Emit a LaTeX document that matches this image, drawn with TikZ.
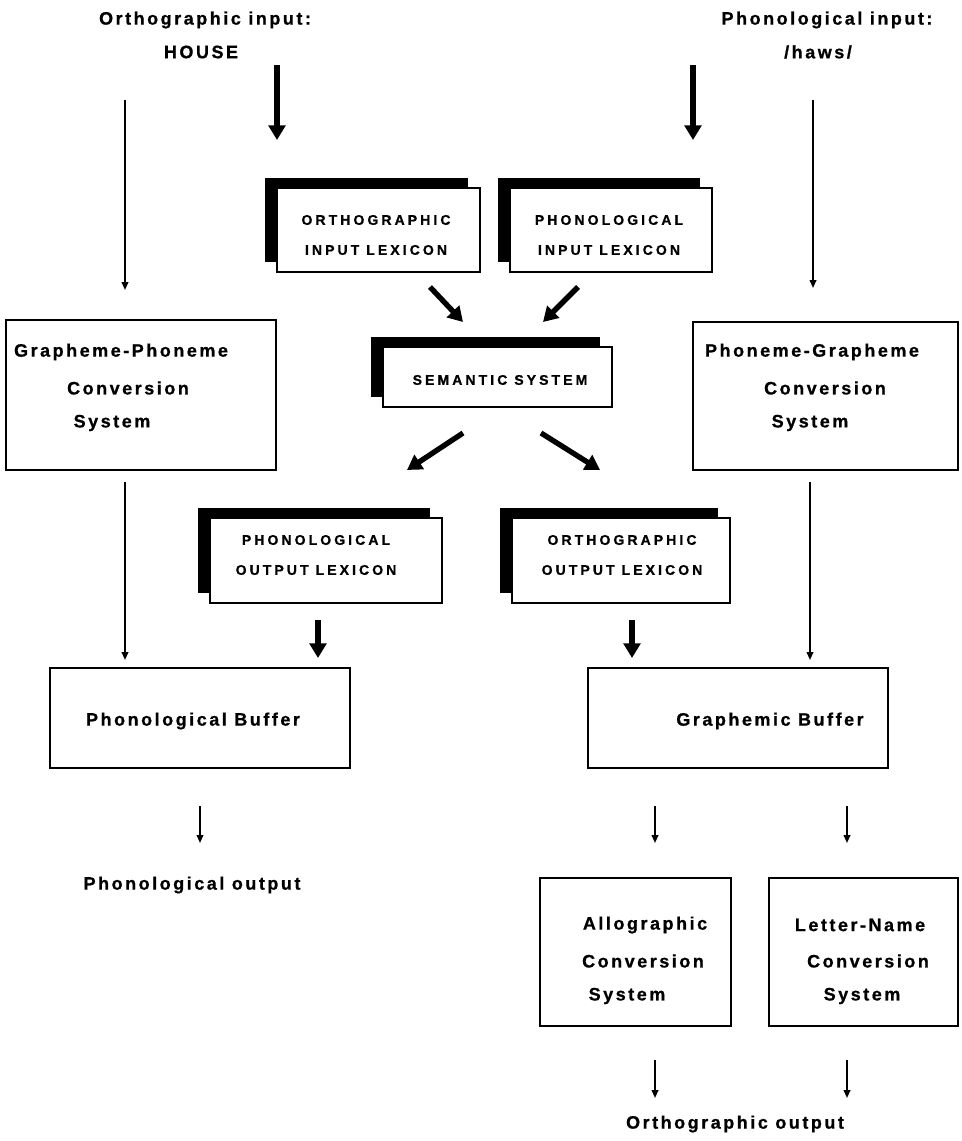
\documentclass[tikz,border=0pt]{standalone}
\usepackage{fontspec}
\setmainfont{Liberation Sans}
\newfontfamily\mixfont{Liberation Sans}[LetterSpace=14, BoldFeatures={FakeBold=0.8}]
\newfontfamily\capfont{Liberation Sans}[LetterSpace=22, BoldFeatures={FakeBold=0.8}]
\usetikzlibrary{arrows.meta,shadows}

\tikzset{
  txt/.style={font=\mixfont\bfseries\fontsize{13.5}{15}\selectfont, inner sep=0pt},
  captxt/.style={font=\capfont\bfseries\fontsize{10.5}{22.5}\selectfont, align=center},
  plainbox/.style={draw, line width=0.8pt, inner sep=0pt},
  lexbox/.style={draw, fill=white, line width=0.8pt, inner sep=0pt,
    general shadow={fill=black, shadow xshift=-9pt, shadow yshift=7.5pt}},
  thinarrow/.style={line width=1.3pt, -{Triangle[width=5pt,length=6pt]}},
  thickarrow/.style={line width=4pt, -{Triangle[width=12.5pt,length=11pt]}}
}

\begin{document}
\begin{tikzpicture}[x=0.75pt,y=-0.75pt]
\path[use as bounding box] (0,0) rectangle (962,1141);

% inputs
\node[txt] (orthin) at (205,20) {Orthographic input:};
\node[txt] (house) at (201,52) {HOUSE};
\node[txt] (phonin) at (827,20) {Phonological input:};
\node[txt] (haws) at (818,52) {/haws/};

% lexicons and semantic system
\node[lexbox, minimum width=203*0.75pt, minimum height=84*0.75pt] (oil) at (378.5,230) {};
\node[captxt] (oilt) at (376,235) {ORTHOGRAPHIC\\INPUT LEXICON};
\node[lexbox, minimum width=202*0.75pt, minimum height=84*0.75pt] (pil) at (611,230) {};
\node[captxt] (pilt) at (609,235) {PHONOLOGICAL\\INPUT LEXICON};
\node[lexbox, minimum width=229*0.75pt, minimum height=60*0.75pt] (sem) at (497.5,377) {};
\node[captxt] (semt) at (500,380) {SEMANTIC SYSTEM};
\node[lexbox, minimum width=232*0.75pt, minimum height=85*0.75pt] (pol) at (326,560.5) {};
\node[captxt] (polt) at (316,555) {PHONOLOGICAL\\OUTPUT LEXICON};
\node[lexbox, minimum width=218*0.75pt, minimum height=85*0.75pt] (ool) at (621,560.5) {};
\node[captxt] (oolt) at (622,555) {ORTHOGRAPHIC\\OUTPUT LEXICON};

% conversion systems
\node[plainbox, minimum width=270*0.75pt, minimum height=150*0.75pt] (gpc) at (141,395) {};
\node[txt] (gpc1) at (121,352) {Grapheme-Phoneme};
\node[txt] (gpc2) at (128,388) {Conversion};
\node[txt] (gpc3) at (112,423) {System};

\node[plainbox, minimum width=265*0.75pt, minimum height=148*0.75pt] (pgc) at (825.5,396) {};
\node[txt] (pgc1) at (812,352) {Phoneme-Grapheme};
\node[txt] (pgc2) at (825,388) {Conversion};
\node[txt] (pgc3) at (810,423) {System};

% buffers
\node[plainbox, minimum width=300*0.75pt, minimum height=100*0.75pt] (pb) at (200,718) {};
\node[txt] (pbt) at (193,721) {Phonological Buffer};
\node[plainbox, minimum width=300*0.75pt, minimum height=100*0.75pt] (gb) at (738,718) {};
\node[txt] (gbt) at (770,721) {Graphemic Buffer};

% outputs
\node[txt] (phonout) at (192,885) {Phonological output};

\node[plainbox, minimum width=191*0.75pt, minimum height=148*0.75pt] (ac) at (635.5,952) {};
\node[txt] (ac1) at (645,925) {Allographic};
\node[txt] (ac2) at (643,961) {Conversion};
\node[txt] (ac3) at (627,996) {System};

\node[plainbox, minimum width=189*0.75pt, minimum height=148*0.75pt] (ln) at (863.5,952) {};
\node[txt] (ln1) at (860,925) {Letter-Name};
\node[txt] (ln2) at (868,961) {Conversion};
\node[txt] (ln3) at (862,996) {System};

\node[txt] (orthout) at (735,1124) {Orthographic output};

% arrow end points
\coordinate (a1s) at (277,65);   \coordinate (a1e) at (277,140);
\coordinate (a2s) at (693,65);   \coordinate (a2e) at (693,140);
\coordinate (a3s) at (430,287);  \coordinate (a3e) at (463,322);
\coordinate (a4s) at (578,287);  \coordinate (a4e) at (543,322);
\coordinate (a5s) at (463,433);  \coordinate (a5e) at (407,470);
\coordinate (a6s) at (541,433);  \coordinate (a6e) at (600,470);
\coordinate (a7s) at (318,620);  \coordinate (a7e) at (318,658);
\coordinate (a8s) at (632,620);  \coordinate (a8e) at (632,658);

\coordinate (b1s) at (125,100);  \coordinate (b1e) at (125,290);
\coordinate (b2s) at (813,100);  \coordinate (b2e) at (813,288);
\coordinate (b3s) at (125,482);  \coordinate (b3e) at (125,660);
\coordinate (b4s) at (810,482);  \coordinate (b4e) at (810,660);
\coordinate (b5s) at (200,806);  \coordinate (b5e) at (200,843);
\coordinate (b6s) at (655,806);  \coordinate (b6e) at (655,843);
\coordinate (b7s) at (847,806);  \coordinate (b7e) at (847,843);
\coordinate (b8s) at (655,1060); \coordinate (b8e) at (655,1098);
\coordinate (b9s) at (847,1060); \coordinate (b9e) at (847,1098);

% lexical route arrows
\foreach \i in {1,...,8} \draw[thickarrow] (a\i s) -- (a\i e);
% sublexical and output arrows
\foreach \i in {1,...,9} \draw[thinarrow] (b\i s) -- (b\i e);
\end{tikzpicture}
\end{document}
